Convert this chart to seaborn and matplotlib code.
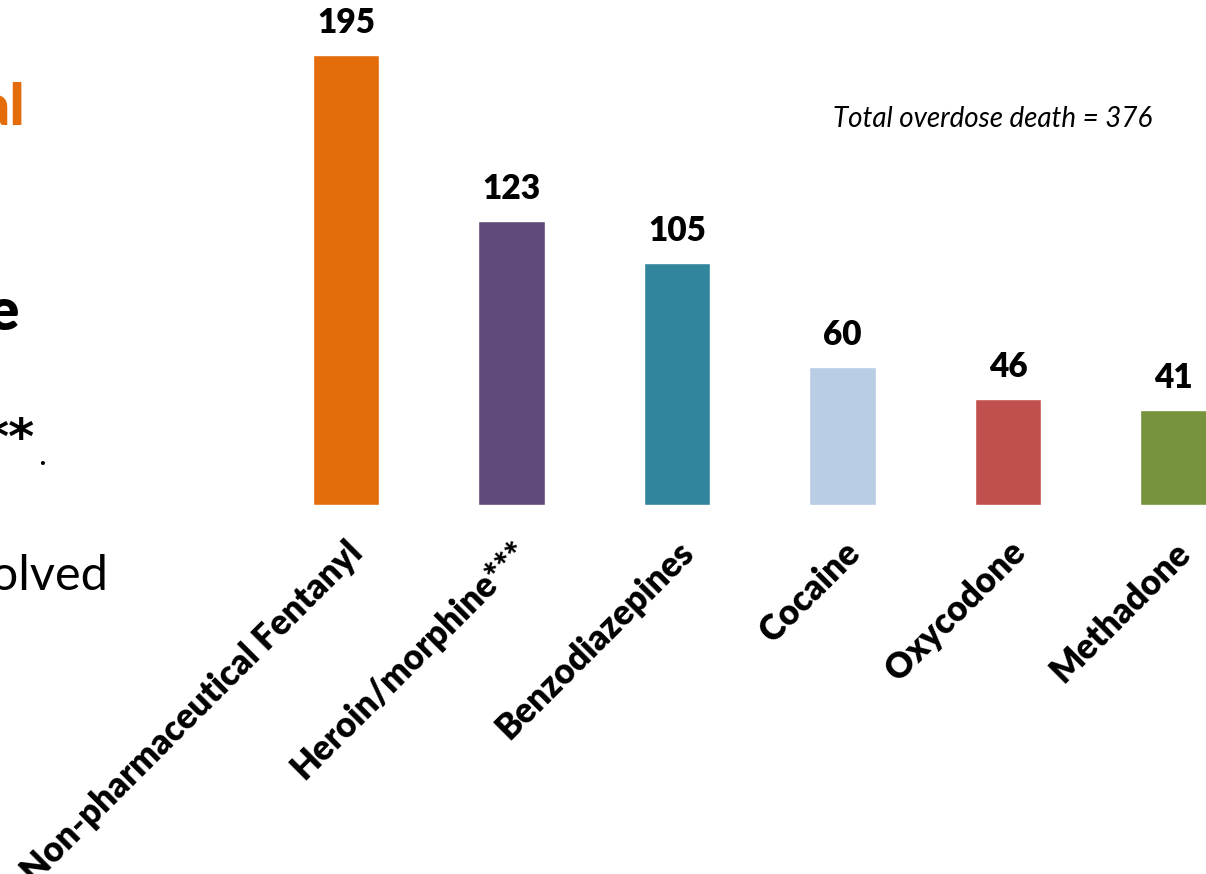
import matplotlib
matplotlib.use("Agg")
import matplotlib.pyplot as plt
import seaborn as sns
import pandas as pd

# Drugs involved in overdose deaths
categories = ["Non-pharmaceutical Fentanyl", "Heroin/morphine***", "Benzodiazepines",
              "Cocaine", "Oxycodone", "Methadone"]
deaths = [195, 123, 105, 60, 46, 41]
bar_colors = ["#E46C0A", "#604A7B", "#31859C", "#B9CDE5", "#C0504D", "#77933C"]
total_note = "Total overdose death = 376"

sns.set_theme(style="white")
plt.rcParams["font.family"] = ["Lato", "DejaVu Sans"]

W, H = 1206, 874
fig = plt.figure(figsize=(W / 100, H / 100), dpi=100)
fig.patch.set_facecolor("white")

# axes spanning the full width; baseline 505 px from top
base_px = 505
px_per_unit = 450 / 195
ax = fig.add_axes([0, (H - base_px) / H, 1, base_px / H])

df = pd.DataFrame({"drug": categories, "deaths": deaths})
sns.barplot(data=df, x="drug", y="deaths", hue="drug", palette=bar_colors,
            width=0.4, legend=False, ax=ax, saturation=1)

step = 165.5
ax.set_xlim((0 - 346) / step, (W - 346) / step)
ax.set_ylim(0, base_px / px_per_unit)
for s in ax.spines.values():
    s.set_visible(False)
ax.set_facecolor("none")
ax.set_ylabel("")
ax.set_xlabel("")
ax.set_yticks([])
ax.set_xticks(range(len(categories)))
ax.set_xticklabels(categories, rotation=45, ha="right", rotation_mode="anchor",
                   fontsize=25, fontweight="heavy", color="black")
ax.tick_params(axis="x", length=0, pad=22)

for i, v in enumerate(deaths):
    ax.annotate(str(v), (i, v), xytext=(0, 15.8), textcoords="offset points",
                ha="center", va="baseline", fontsize=24, fontweight="heavy",
                color="black")

fig.text(1152 / W, 1 - 127 / H, total_note, ha="right", va="baseline",
         fontsize=20, fontstyle="italic", color="black")

# side text of the slide
fig.text(24 / W, 1 - 125 / H, "Non-pharmaceutical", ha="right", va="baseline",
         fontsize=40, fontweight="heavy", color="#E46C0A")
fig.text(20 / W, 1 - 330 / H, "overdose", ha="right", va="baseline",
         fontsize=42, fontweight="heavy", color="black")
fig.text(34 / W, 1 - 454 / H, "**", ha="right", va="baseline",
         fontsize=36, fontweight="bold", color="black", family="DejaVu Sans")
fig.text(38 / W, 1 - 465 / H, ".", ha="left", va="baseline",
         fontsize=24, color="black")
fig.text(108 / W, 1 - 590 / H, "involved", ha="right", va="baseline",
         fontsize=35, color="black")

fig.savefig("out.png", dpi=100, facecolor="white")
